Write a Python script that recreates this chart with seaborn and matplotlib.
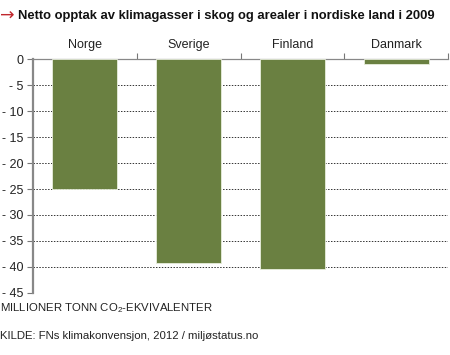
import matplotlib
matplotlib.use("Agg")
import matplotlib.pyplot as plt
from matplotlib.ticker import FuncFormatter, FixedLocator
import seaborn as sns
import pandas as pd

countries = ["Norge", "Sverige", "Finland", "Danmark"]
uptake = [-24.9, -39.2, -40.5, -0.9]
yticks = [0, -5, -10, -15, -20, -25, -30, -35, -40, -45]

df = pd.DataFrame({"land": countries, "opptak": uptake})

sns.set_style("white")
plt.rcParams["font.family"] = ["Liberation Sans", "DejaVu Sans"]
plt.rcParams["mathtext.fontset"] = "custom"
plt.rcParams["mathtext.rm"] = "Liberation Sans"

fig = plt.figure(figsize=(4.5, 3.55), dpi=100)
ax = fig.add_axes([0.0733, 0.1755, 0.9227, 0.657])

sns.barplot(data=df, x="land", y="opptak", color="#6a8041", width=0.625,
            saturation=1, edgecolor="#e8eedc", linewidth=0.6, ax=ax, zorder=3)

ax.set_ylim(-45, 0)
ax.set_xlim(-0.5, 3.5)
ax.yaxis.set_major_locator(FixedLocator(yticks))
ax.yaxis.set_major_formatter(FuncFormatter(lambda v, p: "0" if v == 0 else f"- {abs(v):g}"))
ax.grid(axis="y", linestyle=(0, (1.5, 1.5)), color="#333333", linewidth=0.7, zorder=0)
ax.grid(axis="x", visible=False)

# category names on top, boundary ticks on the zero line
ax.xaxis.tick_top()
ax.xaxis.set_label_position("top")
ax.set_xticks(range(len(countries)))
ax.set_xticklabels(countries)
ax.set_xticks([0.5, 1.5, 2.5, 3.5], minor=True)
ax.tick_params(axis="x", which="major", length=0, pad=6, labelsize=9, colors="#222222")
ax.tick_params(axis="x", which="minor", length=4, width=0.8, color="#777777", top=True)
ax.tick_params(axis="y", length=4, width=0.8, color="#777777", labelsize=9,
               labelcolor="#222222", left=True, pad=3)
ax.set_xlabel("")
ax.set_ylabel("")

for side in ["right", "bottom"]:
    ax.spines[side].set_visible(False)
ax.spines["top"].set_color("#888888")
ax.spines["top"].set_linewidth(0.9)
ax.spines["left"].set_color("#888888")
ax.spines["left"].set_linewidth(1.6)

fig.text(0.001, 0.957, "\u2192", color="#c0272d", fontsize=12.5,
         va="center", ha="left", family=["DejaVu Sans"])
fig.text(0.04, 0.955, "Netto opptak av klimagasser i skog og arealer i nordiske land i 2009",
         fontsize=9.4, fontweight="bold", va="center", ha="left", color="#111111")
fig.text(0.0, 0.132, "MILLIONER TONN CO$_2$-EKVIVALENTER", fontsize=8.2,
         va="center", ha="left", color="#222222")
fig.text(0.0, 0.054, "KILDE: FNs klimakonvensjon, 2012 / miljøstatus.no", fontsize=8.2,
         va="center", ha="left", color="#222222")

fig.savefig("out.png", dpi=100)
